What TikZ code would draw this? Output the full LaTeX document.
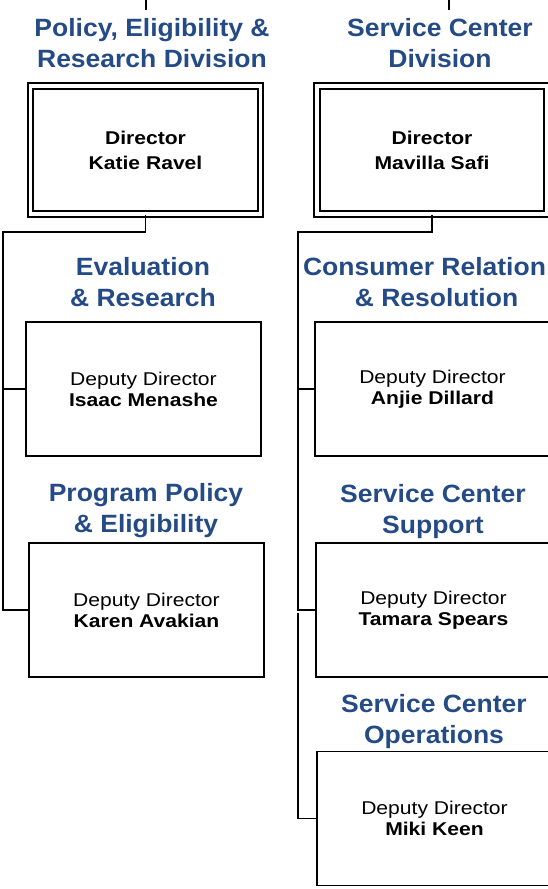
\documentclass[tikz,border=0pt]{standalone}
\usepackage{fontspec}
\setmainfont{Liberation Sans}
\newfontfamily\boxfont[FakeStretch=1.14]{Liberation Sans}
\newfontfamily\headfont[FakeStretch=1.06]{Liberation Sans}
\definecolor{headblue}{RGB}{37,75,135}
\begin{document}
\begin{tikzpicture}[x=1pt,y=-1pt,
  head/.style={align=center,inner sep=0pt,anchor=base,text=headblue,font=\headfont\fontsize{25}{31}\selectfont\bfseries},
  dirbox/.style={draw,double,line width=2pt,double distance=3.6pt,minimum width=230pt,minimum height=128pt,inner sep=0pt,align=center,font=\boxfont\fontsize{18.5}{25}\selectfont\bfseries},
  depbox/.style={draw,line width=1.8pt,minimum width=235pt,minimum height=134pt,inner sep=0pt,align=center,font=\boxfont\fontsize{18.5}{21}\selectfont},
  link/.style={line width=1.6pt}]
\useasboundingbox (0,0) rectangle (548,889);
% left division
\node[head] (polhead) at (152,67) {Policy, Eligibility \&\\Research Division};
\node[dirbox] (dirL) at (145.5,150) {Director\\Katie Ravel};
\node[head] (evalhead) at (143,306) {Evaluation\\\& Research};
\node[depbox] (eval) at (143.5,389) {Deputy Director\\\textbf{Isaac Menashe}};
\node[head] (proghead) at (146,532) {Program Policy\\\& Eligibility};
\node[depbox] (prog) at (146.5,610) {Deputy Director\\\textbf{Karen Avakian}};
% right division
\node[head] (schead) at (440,67) {Service Center\\Division};
\node[dirbox] (dirR) at (432,150) {Director\\Mavilla Safi};
\node[head] (conshead) at (436.5,306) {Consumer Relation\hspace*{24pt}\\\& Resolution};
\node[depbox] (cons) at (432.5,389) {Deputy Director\\\textbf{Anjie Dillard}};
\node[head] (suphead) at (433,533) {Service Center\\Support};
\node[depbox] (sup) at (433.5,610) {Deputy Director\\\textbf{Tamara Spears}};
\node[head] (opshead) at (434,743) {Service Center\\Operations};
\node[depbox] (ops) at (434.5,818.5) {Deputy Director\\\textbf{Miki Keen}};
% connectors
\coordinate (topL) at (146,0);
\coordinate (topR) at (449,0);
\draw[link] (topL) -- ++(0,10);
\draw[link] (topR) -- ++(0,10);
\coordinate (busL) at (3,232);
\draw[link] (dirL.south) |- (busL) |- (prog.west);
\draw[link] (busL) |- (eval.west);
\coordinate (busR) at (298,232);
\draw[link] (dirR.south) |- (busR) |- (sup.west);
\draw[link] (busR) |- (cons.west);
\draw[link] ([yshift=-3pt]busR |- sup.west) |- (ops.west);
\end{tikzpicture}
\end{document}
